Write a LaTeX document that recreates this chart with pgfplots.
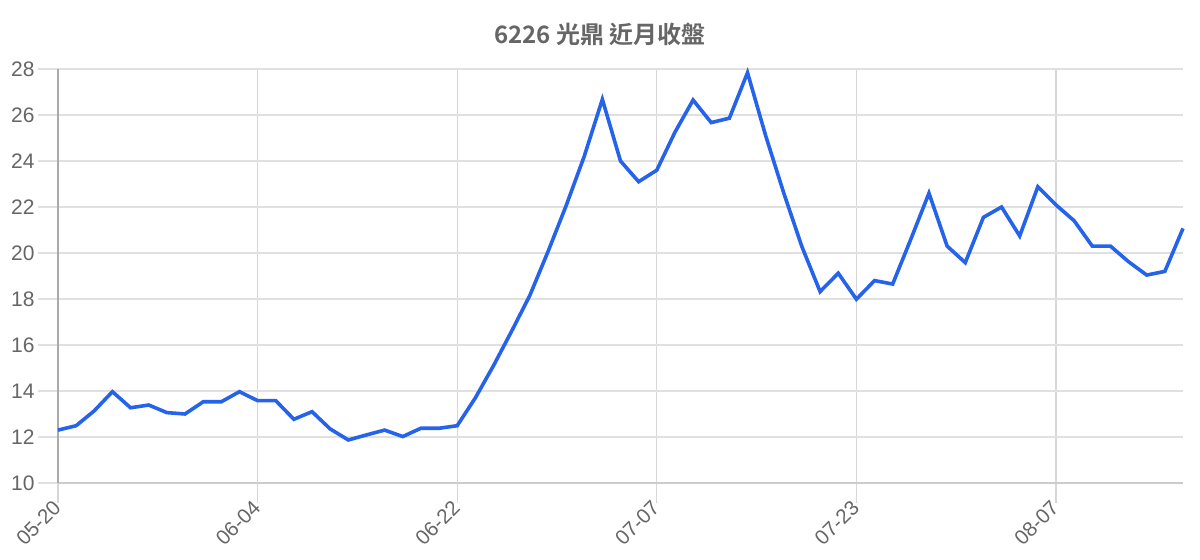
\documentclass[border=0pt]{standalone}
\usepackage{pgfplots}
\pgfplotsset{compat=1.18}
\usepackage{fontspec}
\setmainfont{Liberation Sans}
\newfontfamily\cjk{Noto Sans CJK TC}[BoldFont={Noto Sans CJK TC Bold}]
\definecolor{linecol}{HTML}{2563EB}
\definecolor{txt}{HTML}{666666}
\definecolor{gridc}{HTML}{E0E0E0}
\definecolor{vgrid}{HTML}{D6D6D6}
\definecolor{yaxc}{HTML}{AAAAAA}
\definecolor{xaxc}{HTML}{CCCCCC}
\begin{document}
\begin{tikzpicture}
\useasboundingbox (0,0) rectangle (600pt,280pt);
\begin{axis}[
  at={(29pt,38.5pt)}, anchor=south west,
  scale only axis, width=562.5pt, height=207pt,
  xmin=0, xmax=62, ymin=10, ymax=28,
  ytick={10,12,...,28},
  xtick={0,11,22,33,44,55},
  xticklabels={05-20,06-04,06-22,07-07,07-23,08-07},
  axis lines=left,
  axis line style={-},
  x axis line style={draw=xaxc, line width=1pt},
  y axis line style={draw=yaxc, line width=1pt},
  grid=major,
  x grid style={draw=vgrid, line width=0.6pt},
  y grid style={draw=gridc, line width=0.75pt},
  tick align=outside,
  major tick length=10pt,
  x tick style={draw=vgrid, line width=0.6pt},
  y tick style={draw=gridc, line width=0.75pt},
  /pgf/number format/assume math mode=true,
  yticklabel style={font=\fontsize{10.5}{12}\selectfont, text=txt, inner sep=1.5pt},
  xticklabel style={font=\fontsize{10.3}{12}\selectfont, text=txt, rotate=45, anchor=east, inner sep=0.5pt},
  clip=false,
]
\addplot[color=linecol, line width=1.8pt, line join=miter] coordinates {
(0,12.30) (1,12.49) (2,13.14) (3,13.97) (4,13.27) (5,13.39) (6,13.06) (7,13.00)
(8,13.53) (9,13.53) (10,13.97) (11,13.58) (12,13.58) (13,12.77) (14,13.10) (15,12.35)
(16,11.87) (17,12.09) (18,12.30) (19,12.02) (20,12.38) (21,12.38) (22,12.49)
(23,13.70) (24,15.10) (25,16.60) (26,18.15) (27,20.05) (28,22.05) (29,24.20) (30,26.68)
(31,24.00) (32,23.10) (33,23.60) (34,25.25) (35,26.65) (36,25.67) (37,25.86) (38,27.84)
(39,25.10) (40,22.60) (41,20.27) (42,18.32) (43,19.12) (44,17.99) (45,18.80) (46,18.65)
(47,20.60) (48,22.60) (49,20.30) (50,19.58) (51,21.55) (52,22.00) (53,20.74) (54,22.88)
(55,22.09) (56,21.40) (57,20.30) (58,20.30) (59,19.62) (60,19.04) (61,19.20) (62,21.07)
};
\end{axis}
\node[text=txt, font=\cjk\bfseries\fontsize{12}{14}\selectfont] at (300pt,262.5pt) {6226 光鼎 近月收盤};
\end{tikzpicture}
\end{document}
